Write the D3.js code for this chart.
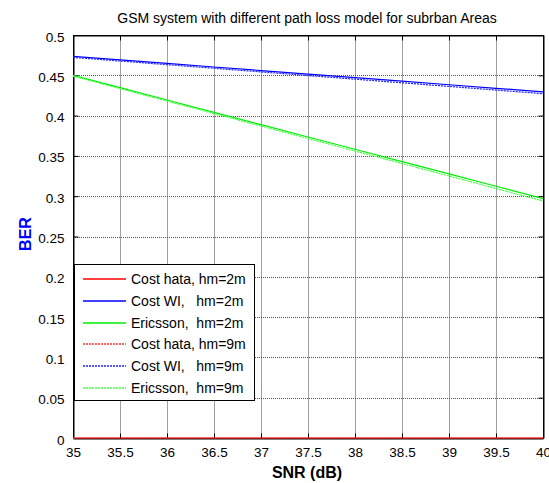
<!DOCTYPE html>
<html>
<head>
<meta charset="utf-8">
<script src="https://cdn.jsdelivr.net/npm/d3@7"></script>
<style>
  html, body { margin: 0; padding: 0; background: #fff; }
  svg { display: block; font-family: "Liberation Sans", Arial, sans-serif; }
  text { white-space: pre; }
</style>
</head>
<body>
<svg id="chart" width="549" height="483"></svg>
<script>
// SNR sweep (dB)
const snr = [35, 35.5, 36, 36.5, 37, 37.5, 38, 38.5, 39, 39.5, 40];

// BER per path loss model and mobile antenna height
const costHata2 = [0, 0, 0, 0, 0, 0, 0, 0, 0, 0, 0];
const costWI2   = [0.4735, 0.4691, 0.4647, 0.4603, 0.4559, 0.4515, 0.4471, 0.4427, 0.4383, 0.4339, 0.4295];
const ericsson2 = [0.4500, 0.4347, 0.4194, 0.4041, 0.3888, 0.3735, 0.3582, 0.3429, 0.3276, 0.3123, 0.2970];
const costHata9 = [0, 0, 0, 0, 0, 0, 0, 0, 0, 0, 0];
const costWI9   = [0.4722, 0.4677, 0.4632, 0.4587, 0.4542, 0.4497, 0.4452, 0.4407, 0.4362, 0.4317, 0.4272];
const ericsson9 = [0.4490, 0.4335, 0.4180, 0.4025, 0.3870, 0.3715, 0.3560, 0.3405, 0.3250, 0.3095, 0.2940];

const seriesNames = [
  "Cost hata, hm=2m",
  "Cost WI,   hm=2m",
  "Ericsson,  hm=2m",
  "Cost hata, hm=9m",
  "Cost WI,   hm=9m",
  "Ericsson,  hm=9m"
];

const xTicks = [35, 35.5, 36, 36.5, 37, 37.5, 38, 38.5, 39, 39.5, 40];
const yTicks = [0, 0.05, 0.1, 0.15, 0.2, 0.25, 0.3, 0.35, 0.4, 0.45, 0.5];

const titleText = "GSM system with different path loss model for subrban Areas";
const xLabel = "SNR (dB)";
const yLabel = "BER";

const series = [
  { name: seriesNames[0], values: costHata2, color: "#ff0000", dash: null },
  { name: seriesNames[1], values: costWI2,   color: "#0000ff", dash: null },
  { name: seriesNames[2], values: ericsson2, color: "#00ee00", dash: null },
  { name: seriesNames[3], values: costHata9, color: "#ff3333", dash: "2,1" },
  { name: seriesNames[4], values: costWI9,   color: "#2222ff", dash: "2,1" },
  { name: seriesNames[5], values: ericsson9, color: "#44ff44", dash: "2,1" }
];

const svg = d3.select("#chart");
const m = { left: 73, right: 543, top: 35, bottom: 438 };

const x = d3.scaleLinear().domain([35, 40]).range([m.left, m.right]);
const y = d3.scaleLinear().domain([0, 0.5]).range([m.bottom, m.top]);

// Grid
const grid = svg.append("g");
grid.selectAll(".vg").data(xTicks.slice(1, -1)).join("line")
  .attr("x1", d => Math.round(x(d)) + 0.5).attr("x2", d => Math.round(x(d)) + 0.5)
  .attr("y1", m.top).attr("y2", m.bottom)
  .attr("stroke", "#a0a0a0").attr("stroke-width", 1);
grid.selectAll(".hg").data(yTicks.slice(1, -1)).join("line")
  .attr("x1", m.left).attr("x2", m.right)
  .attr("y1", d => Math.round(y(d)) + 0.5).attr("y2", d => Math.round(y(d)) + 0.5)
  .attr("stroke", "#555").attr("stroke-width", 1).attr("stroke-dasharray", "1,1");

// Axes with inward ticks on all four sides
const xb = svg.append("g").attr("transform", `translate(0,${m.bottom + 0.5})`)
  .call(d3.axisBottom(x).tickValues(xTicks).tickSizeInner(-5).tickSizeOuter(0).tickPadding(9)
    .tickFormat(d3.format("~g")));
const xt = svg.append("g").attr("transform", `translate(0,${m.top + 0.5})`)
  .call(d3.axisTop(x).tickValues(xTicks).tickSizeInner(-5).tickSizeOuter(0).tickFormat(""));
const yl = svg.append("g").attr("transform", `translate(${m.left + 0.5},0)`)
  .call(d3.axisLeft(y).tickValues(yTicks).tickSizeInner(-5).tickSizeOuter(0).tickPadding(9)
    .tickFormat(d3.format("~g")));
const yr = svg.append("g").attr("transform", `translate(${m.right + 0.5},0)`)
  .call(d3.axisRight(y).tickValues(yTicks).tickSizeInner(-5).tickSizeOuter(0).tickFormat(""));

[xb, xt, yl, yr].forEach(g => {
  g.select(".domain").attr("stroke", "#000");
  g.selectAll(".tick line").attr("stroke", "#000");
  g.selectAll("text").attr("fill", "#000").attr("font-size", 13.5)
    .attr("font-family", "Liberation Sans, Arial, sans-serif");
});
xb.selectAll("text").attr("dy", "0.71em");
yl.selectAll("text").attr("dy", "0.45em");

// Frame
svg.append("rect")
  .attr("x", m.left + 0.5).attr("y", m.top + 0.5)
  .attr("width", m.right - m.left).attr("height", m.bottom - m.top)
  .attr("fill", "none").attr("stroke", "#000").attr("stroke-width", 1);

// Series lines
const line = d3.line().x((d, i) => x(snr[i])).y(d => y(d));
svg.append("g").selectAll("path").data(series).join("path")
  .attr("d", d => line(d.values))
  .attr("fill", "none")
  .attr("stroke", d => d.color)
  .attr("stroke-width", 1.2)
  .attr("stroke-dasharray", d => d.dash);

// Title and axis labels
svg.append("text").attr("x", 307).attr("y", 23).attr("text-anchor", "middle")
  .attr("font-size", 14).text(titleText);
svg.append("text").attr("x", 307).attr("y", 478).attr("text-anchor", "middle")
  .attr("font-size", 16).attr("font-weight", "bold").text(xLabel);
svg.append("text").attr("transform", "translate(31,234) rotate(-90)")
  .attr("text-anchor", "middle").attr("font-size", 16).attr("font-weight", "bold")
  .attr("fill", "#0000ff").text(yLabel);

// Legend: box, sample strokes and labels
const lg = svg.append("g").attr("class", "legend");
lg.append("rect").attr("x", 74.5).attr("y", 264.5).attr("width", 180).attr("height", 136)
  .attr("fill", "#fff").attr("stroke", "#000").attr("stroke-width", 1);
series.forEach((s, i) => {
  const ly = Math.round(279 + i * 21.8);
  const key = lg.append("path")
    .attr("d", `M83,${ly}H126`)
    .attr("fill", "none")
    .style("stroke", s.color)
    .style("stroke-width", "1.4px");
  if (s.dash) key.style("stroke-dasharray", s.dash);
  lg.append("text").attr("x", 131).attr("y", ly).attr("dy", "0.36em")
    .attr("font-size", 14).attr("fill", "#000").text(s.name);
});
</script>
</body>
</html>
